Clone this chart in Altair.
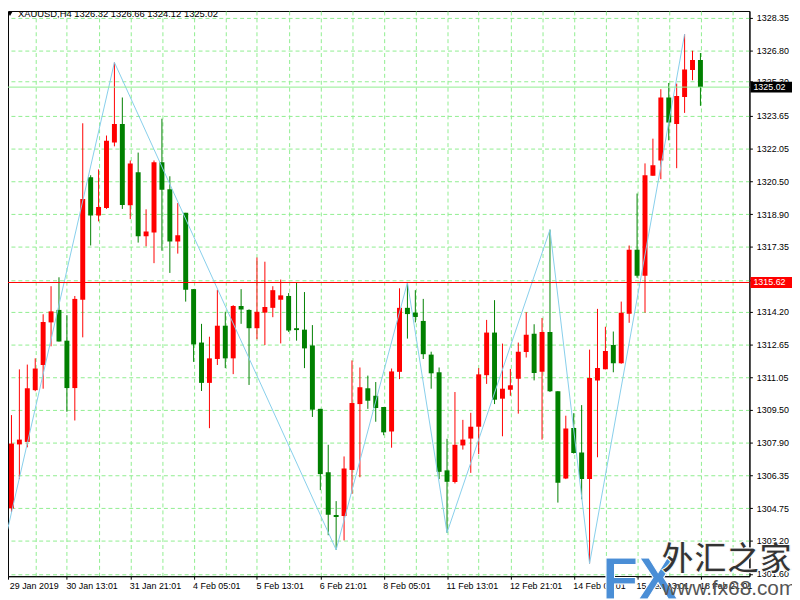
import altair as alt
import pandas as pd

# ---------------- data ----------------
opens = [1304.32, 1304.75, 1307.83, 1307.95, 1310.44, 1311.65, 1313.70, 1314.30, 1312.82, 1310.54,
         1314.79, 1320.68, 1318.84, 1319.20, 1322.35, 1323.25, 1319.34, 1320.92, 1317.84, 1318.02,
         1321.40, 1320.11, 1317.59, 1318.97, 1315.30, 1312.73, 1310.79, 1311.94, 1313.54, 1311.97,
         1314.49, 1314.30, 1313.42, 1314.17, 1314.40, 1314.79, 1314.97, 1313.42, 1313.35, 1312.59,
         1309.54, 1306.49, 1304.43, 1304.39, 1306.60, 1309.77, 1310.53, 1310.17, 1309.63, 1308.45,
         1311.32, 1314.40, 1314.17, 1313.77, 1312.15, 1311.30, 1306.58, 1306.02, 1307.78, 1308.11,
         1308.68, 1311.16, 1313.21, 1310.03, 1310.46, 1310.99, 1312.27, 1313.15, 1311.32, 1313.24,
         1310.39, 1306.19, 1308.62, 1307.44, 1306.16, 1310.91, 1311.44, 1312.61, 1311.74, 1314.12,
         1317.19, 1315.94, 1320.76, 1321.49, 1324.52, 1323.25, 1324.54, 1325.84, 1326.32]
highs = [1306.44, 1309.24, 1311.44, 1311.67, 1311.97, 1314.09, 1315.44, 1315.87, 1314.05, 1314.97,
         1323.28, 1320.78, 1321.06, 1322.69, 1326.21, 1324.52, 1321.49, 1321.87, 1319.14, 1321.49,
         1323.50, 1320.73, 1319.44, 1318.97, 1315.30, 1313.63, 1313.01, 1315.27, 1314.21, 1314.53,
         1315.30, 1314.33, 1316.82, 1316.62, 1315.44, 1315.76, 1315.11, 1315.62, 1315.16, 1313.57,
         1309.54, 1307.81, 1305.10, 1307.25, 1311.87, 1311.53, 1311.14, 1310.83, 1309.63, 1311.48,
         1315.34, 1315.62, 1315.25, 1314.83, 1312.29, 1311.53, 1308.10, 1310.35, 1309.01, 1309.35,
         1311.50, 1313.82, 1314.77, 1312.68, 1311.46, 1312.73, 1314.19, 1313.61, 1313.91, 1318.16,
         1310.39, 1309.21, 1309.33, 1309.72, 1312.39, 1314.35, 1313.49, 1313.26, 1314.70, 1317.40,
         1319.90, 1321.35, 1322.54, 1324.92, 1325.22, 1325.19, 1327.57, 1326.77, 1326.66]
lows = [1302.88, 1304.57, 1306.16, 1307.69, 1310.39, 1310.51, 1312.55, 1312.78, 1309.40, 1308.98,
        1312.98, 1317.40, 1318.56, 1319.16, 1322.17, 1319.16, 1318.67, 1317.54, 1317.36, 1316.55,
        1317.15, 1316.08, 1317.01, 1314.70, 1311.80, 1310.40, 1308.61, 1311.65, 1311.50, 1311.21,
        1313.63, 1310.69, 1312.89, 1312.61, 1313.95, 1312.69, 1313.24, 1312.82, 1311.50, 1309.15,
        1305.63, 1303.46, 1302.76, 1303.21, 1305.45, 1306.25, 1309.54, 1308.92, 1308.27, 1307.67,
        1310.97, 1312.92, 1313.70, 1311.94, 1310.51, 1306.16, 1303.58, 1305.95, 1307.58, 1306.46,
        1307.36, 1310.74, 1309.77, 1308.22, 1310.17, 1309.31, 1312.01, 1310.91, 1308.06, 1310.35,
        1305.03, 1306.16, 1307.39, 1305.19, 1302.10, 1307.21, 1311.44, 1311.30, 1311.71, 1313.68,
        1315.85, 1314.17, 1320.76, 1320.59, 1322.46, 1321.12, 1323.78, 1325.35, 1324.12]
closes = [1304.82, 1307.87, 1308.06, 1310.53, 1311.48, 1313.72, 1314.23, 1312.78, 1310.54, 1314.83,
          1319.64, 1318.84, 1319.25, 1322.44, 1323.25, 1319.35, 1321.35, 1317.84, 1318.07, 1321.40,
          1320.08, 1317.59, 1317.89, 1315.27, 1312.64, 1310.79, 1311.97, 1313.54, 1311.97, 1314.49,
          1314.32, 1313.42, 1314.21, 1314.44, 1315.25, 1315.00, 1313.31, 1313.33, 1312.45, 1309.50,
          1306.40, 1304.45, 1304.34, 1306.67, 1309.82, 1310.58, 1309.93, 1309.58, 1308.41, 1311.34,
          1314.40, 1314.10, 1313.96, 1312.17, 1311.25, 1306.51, 1306.03, 1307.81, 1308.06, 1308.68,
          1311.20, 1313.21, 1309.98, 1310.51, 1310.67, 1312.29, 1313.10, 1311.27, 1313.24, 1310.39,
          1305.98, 1308.59, 1307.41, 1306.16, 1311.02, 1311.51, 1312.32, 1311.74, 1314.16, 1317.19,
          1315.94, 1320.78, 1321.26, 1324.52, 1323.32, 1324.59, 1325.87, 1326.32, 1325.02]

zigzag_idx = [0, 14, 42, 51, 56, 69, 74, 86]
zigzag_price = [1302.88, 1326.21, 1302.76, 1315.62, 1303.58, 1318.16, 1302.10, 1327.57]

x_label_idx = [0, 8, 16, 24, 32, 40, 48, 56, 64, 72, 80, 88]
x_labels = ["29 Jan 2019", "30 Jan 13:01", "31 Jan 21:01", "4 Feb 05:01", "5 Feb 13:01",
            "6 Feb 21:01", "8 Feb 05:01", "11 Feb 13:01", "12 Feb 21:01", "14 Feb 05:01",
            "15 Feb 13:01", "18 Feb 21:01"]

y_ticks = [1328.35, 1326.80, 1325.30, 1323.65, 1322.05, 1320.50, 1318.90, 1317.35, 1315.75,
           1314.20, 1312.65, 1311.05, 1309.50, 1307.90, 1306.35, 1304.75, 1303.20, 1301.60]

level_price = [1315.62]
bid_price = [1325.02]
header_text = ["XAUUSD,H4  1326.32 1326.66 1324.12 1325.02"]
watermark = ["FX", "外汇之家", "www.fx68.com"]

# ---------------- frames ----------------
df = pd.DataFrame({"i": list(range(len(opens))), "open": opens, "high": highs,
                   "low": lows, "close": closes})
df["dir"] = ["up" if c >= o else "down" for o, c in zip(opens, closes)]
zz = pd.DataFrame({"i": zigzag_idx, "price": zigzag_price})

FONT = "Liberation Sans"
X_MIN, X_MAX = 0.5625, 94.1875
yscale = alt.Scale(domain=[1301.487, 1328.683], nice=False, zero=False, padding=0)
xscale = alt.Scale(domain=[X_MIN, X_MAX], nice=False, zero=False, padding=0)

# the first bar sits at the clipped left edge: keep its label just inside the plot
label_pos = [max(v, 0.6) for v in x_label_idx]
axis_vals = sorted(set(label_pos + list(range(4, 96, 4))))
idx_js = "[" + ",".join(str(v) for v in label_pos) + "]"
lab_js = "[" + ",".join('"' + s + '"' for s in x_labels) + "]"
label_expr = f"indexof({idx_js}, datum.value) >= 0 ? {lab_js}[indexof({idx_js}, datum.value)] : ''"
tick_test = f"indexof({idx_js}, datum.value) >= 0"

x_axis = alt.Axis(values=axis_vals, grid=True, gridColor="#90EE90", gridDash=[4, 3], gridWidth=1,
                  gridOpacity={"condition": {"test": "datum.value < 1", "value": 0}, "value": 1},
                  domainColor="black", tickColor="black", tickSize=3,
                  tickOpacity={"condition": {"test": tick_test, "value": 1}, "value": 0},
                  labelExpr=label_expr, labelAlign="left", labelBaseline="top", labelPadding=2,
                  labelOffset={"condition": {"test": "datum.value < 1", "value": 1}, "value": -1},
                  labelFont=FONT, labelFontSize=9, labelColor="black", labelOverlap=False,
                  labelFlush=False, title=None)
y_axis = alt.Axis(orient="right", values=y_ticks, format=".2f", grid=True, gridColor="#90EE90",
                  gridDash=[4, 3], gridWidth=1, domainColor="black", tickColor="black", tickSize=3,
                  labelPadding=4, labelFont=FONT, labelFontSize=9, labelColor="black",
                  labelOverlap=False, labelFlush=False, title=None)

color = alt.Color("dir:N", scale=alt.Scale(domain=["up", "down"], range=["#FF0000", "#008000"]),
                  legend=None)
base = alt.Chart(df)

wicks = base.mark_rule(strokeWidth=1, clip=True).encode(
    x=alt.X("i:Q", scale=xscale, axis=x_axis),
    y=alt.Y("low:Q", scale=yscale, axis=y_axis),
    y2="high:Q",
    color=color)

bodies = base.mark_bar(size=5, clip=True).encode(
    x=alt.X("i:Q", scale=xscale, axis=x_axis),
    y=alt.Y("open:Q", scale=yscale, axis=y_axis),
    y2="close:Q",
    color=color)

zigzag = alt.Chart(zz).mark_line(color="#87CEEB", strokeWidth=1, clip=True).encode(
    x=alt.X("i:Q", scale=xscale, axis=x_axis),
    y=alt.Y("price:Q", scale=yscale, axis=y_axis))

lvl = pd.DataFrame({"price": level_price})
bid = pd.DataFrame({"price": bid_price})

bid_line = alt.Chart(bid).mark_rule(color="#90EE90", strokeWidth=1).encode(
    y=alt.Y("price:Q", scale=yscale, axis=y_axis))
lvl_line = alt.Chart(lvl).mark_rule(color="#FF0000", strokeWidth=1).encode(
    y=alt.Y("price:Q", scale=yscale, axis=y_axis))

def price_box(frame, fill):
    box = alt.Chart(frame).mark_rule(color=fill, strokeWidth=11, strokeCap="butt").encode(
        y=alt.Y("price:Q", scale=yscale, axis=y_axis), x=alt.value(750), x2=alt.value(792))
    txt = alt.Chart(frame).mark_text(align="left", baseline="middle", font=FONT, fontSize=9,
                                     color="white").encode(
        y=alt.Y("price:Q", scale=yscale, axis=y_axis), x=alt.value(753),
        text=alt.Text("price:Q", format=".2f"))
    return box + txt

lvl_box = price_box(lvl, "#FF0000")
bid_box = price_box(bid, "#000000")

hdr = pd.DataFrame({"t": header_text})
header = alt.Chart(hdr).mark_text(align="left", baseline="alphabetic", font=FONT, fontSize=9.5,
                                  color="black").encode(x=alt.value(10), y=alt.value(6), text="t:N")
tri = alt.Chart(hdr).mark_point(shape="triangle-down", filled=True, size=22, color="black",
                                opacity=1).encode(x=alt.value(2), y=alt.value(3))

wm = pd.DataFrame({"t": watermark})
wm_fx = alt.Chart(wm[wm.t == "FX"]).mark_text(
    align="left", baseline="alphabetic", font=FONT, fontSize=60, fontWeight="bold",
    color="#4a8ed6", stroke="white", strokeWidth=1).encode(
    x=alt.value(600), y=alt.value(594), text="t:N")
wm_cn = alt.Chart(wm[wm.t == "外汇之家"]).mark_text(
    align="left", baseline="alphabetic", font="Noto Sans CJK SC", fontSize=33, fontWeight="bold",
    color="#333333", stroke="white", strokeWidth=1).encode(
    x=alt.value(660), y=alt.value(565), text="t:N")
wm_url = alt.Chart(wm[wm.t == "www.fx68.com"]).mark_text(
    align="left", baseline="alphabetic", font=FONT, fontSize=21,
    color="#555555").encode(
    x=alt.value(661), y=alt.value(590), text="t:N")

chart = alt.layer(
    wicks, bodies, zigzag, bid_line, lvl_line, lvl_box, bid_box, header, tri,
    wm_fx, wm_cn, wm_url
).properties(
    width=749, height=571,
    autosize=alt.AutoSizeParams(type="none"),
    padding={"left": 0, "top": 0, "right": 43, "bottom": 21},
    background="white"
).configure_view(
    stroke="black", strokeWidth=1
).configure_axis(
    labelOverlap=False
).configure_scale(
    continuousPadding=0
)

chart.save("out.html", embed_options={"renderer": "svg", "actions": False})
